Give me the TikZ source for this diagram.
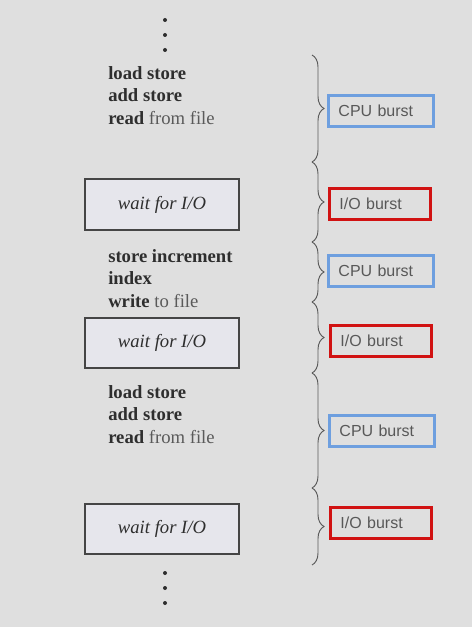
\documentclass[tikz,border=0pt]{standalone}
\usepackage{fontspec}
\setmainfont{Liberation Serif}
\newfontfamily\burstfont{Liberation Sans}
\usepackage{xcolor}
\usetikzlibrary{positioning,decorations.pathreplacing}

\definecolor{bggray}{HTML}{DFDFDF}
\definecolor{boxfill}{HTML}{E6E6EC}
\definecolor{boxedge}{HTML}{454545}
\definecolor{codegray}{HTML}{2E2E2E}
\definecolor{lightcode}{HTML}{5A5A5A}
\definecolor{burstgray}{HTML}{585858}
\definecolor{cpublue}{HTML}{6E9FDF}
\definecolor{iored}{HTML}{D11212}
\definecolor{bracegray}{HTML}{5A5A5A}

\tikzset{
code/.style={anchor=north west, align=left, inner sep=0pt, text=codegray,
  font=\fontsize{14}{16.9}\selectfont\bfseries},
waitbox/.style={draw=boxedge, fill=boxfill, line width=1.3pt,
  minimum width=115pt, minimum height=38pt, text=codegray,
  font=\fontsize{14}{16}\selectfont\itshape},
burst/.style={anchor=west, line width=2.2pt, minimum height=23.5pt,
  inner xsep=7.5pt, align=left, text=burstgray,
  font=\burstfont\fontsize{12}{14}\selectfont},
cpuburst/.style={burst, draw=cpublue, text width=64pt},
ioburst/.style={burst, draw=iored, text width=61pt},
brace/.style={decorate, decoration={brace, amplitude=9pt}, draw=bracegray, line width=0.7pt},
dot/.style={fill=codegray, circle, inner sep=0pt, minimum size=3pt}
}
\newcommand{\light}[1]{{\mdseries\color{lightcode}#1}}

\begin{document}
\begin{tikzpicture}[x=0.75pt, y=-0.75pt]
\useasboundingbox[fill=bggray] (0,0) rectangle (472,627);

% dots
\foreach \y [count=\i] in {20,35,50}{
	\node[dot] (dtop\i) at (165,\y) {};
	\node[dot] (dbot\i) at (165,\y+553) {};
}

% program text
\node[code] (code1) at (108,66) {load store\\ add store\\ read \light{from file}};
\node[waitbox] (wait1) at (162,204.5) {wait for I/O};
\node[code] (code2) at (108,249) {store increment\\ index\\ write \light{to file}};
\node[waitbox] (wait2) at (162,343) {wait for I/O};
\node[code] (code3) at (108,385) {load store\\ add store\\ read \light{from file}};
\node[waitbox] (wait3) at (162,529) {wait for I/O};

% bursts
\node[cpuburst] (cpu1) at (327,111) {CPU burst};
\node[ioburst] (io1) at (328,204) {I/O burst};
\node[cpuburst] (cpu2) at (327,271) {CPU burst};
\node[ioburst] (io2) at (329,341) {I/O burst};
\node[cpuburst] (cpu3) at (328,431) {CPU burst};
\node[ioburst] (io3) at (329,523) {I/O burst};

% braces
\foreach \y [count=\i] in {55,162,242,302,373,488,565}{
	\coordinate (b\i) at (312,\y);
}
\foreach \a/\b in {1/2,2/3,3/4,4/5,5/6,6/7}{
	\draw[brace] (b\a) -- (b\b);
}
\end{tikzpicture}
\end{document}
